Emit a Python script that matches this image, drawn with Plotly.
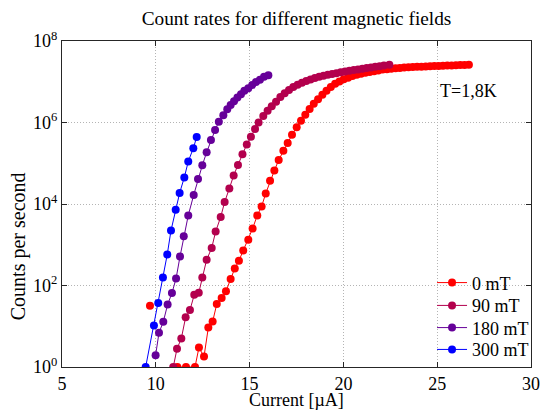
import plotly.graph_objects as go

# Bias current sweeps (µA) and measured count rates (counts/s), T = 1.8 K
current_0mT = [9.69, None, 11.15, 11.61, 12.09, 12.30, 12.57, 12.80, 13.03, 13.25, 13.51, 13.74,
               13.99, 14.21, 14.43, 14.66, 14.93, 15.16, 15.41, 15.64, 15.86, 16.09, 16.32,
               16.55, 16.80, 17.03, 17.26, 17.51, 17.74, 17.97, 18.20, 18.42, 18.65, 18.88,
               19.10, 19.33, 19.56, 19.79, 20.02, 20.25, 20.48, 20.71, 20.94, 21.17, 21.40,
               21.63, 21.86, 22.09, 22.32, 22.55, 22.78, 23.01, 23.24, 23.47, 23.70, 23.93,
               24.16, 24.39, 24.62, 24.85, 25.08, 25.31, 25.54, 25.77, 26.00, 26.23, 26.46, 26.69]
counts_0mT = [32, None, 1, 1, 1, 3, 1.8, 9.3, 13, 35, 49, 72,
              145, 263, 407, 724, 1.32e3, 2.5e3, 5.25e3, 8.7e3, 1.82e4, 3.7e4, 6.6e4,
              1.2e5, 2.04e5, 3.16e5, 5.0e5, 7.6e5, 1.1e6, 1.55e6, 2.14e6, 2.9e6, 3.7e6, 4.8e6,
              6.0e6, 7.4e6, 8.9e6, 1.02e7, 1.15e7, 1.26e7, 1.38e7, 1.48e7, 1.58e7, 1.66e7, 1.74e7,
              1.82e7, 1.9e7, 2.0e7, 2.04e7, 2.09e7, 2.14e7, 2.19e7, 2.24e7, 2.26e7, 2.29e7, 2.32e7,
              2.34e7, 2.37e7, 2.4e7, 2.43e7, 2.45e7, 2.48e7, 2.51e7, 2.51e7, 2.54e7, 2.57e7, 2.57e7, 2.6e7]

current_90mT = [10.93, 11.13, 11.36, 11.59, 11.82, 12.05, 12.29, 12.48, 12.71, 12.98, 13.19, 13.46,
                13.67, 13.92, 14.15, 14.38, 14.62, 14.85, 15.07, 15.29, 15.48, 15.73, 15.96,
                16.18, 16.41, 16.64, 16.87, 17.10, 17.33, 17.56, 17.79, 18.02, 18.25, 18.48,
                18.71, 18.94, 19.17, 19.40, 19.63, 19.86, 20.09, 20.32, 20.55, 20.78, 21.01,
                21.24, 21.47, 21.70, 21.93, 22.16, 22.45]
counts_90mT = [1, 2.8, 5, 16.6, 25, 59, 66, 158, 427, 832, 2.1e3, 4.8e3,
               1.12e4, 2.4e4, 5.0e4, 9.1e4, 1.66e5, 2.9e5, 4.5e5, 6.9e5, 1.0e6, 1.45e6, 1.95e6,
               2.5e6, 3.24e6, 4.2e6, 5.25e6, 6.3e6, 7.4e6, 8.5e6, 9.5e6, 1.05e7, 1.13e7, 1.23e7,
               1.32e7, 1.4e7, 1.48e7, 1.55e7, 1.62e7, 1.7e7, 1.78e7, 1.86e7, 1.93e7, 2.0e7, 2.09e7,
               2.16e7, 2.24e7, 2.32e7, 2.4e7, 2.51e7, 2.63e7]

current_180mT = [9.99, 10.17, 10.40, 10.63, 10.86, 11.08, 11.29, 11.49, 11.73, 12.02, 12.25, 12.48,
                 12.71, 12.94, 13.16, 13.36, 13.60, 13.81, 13.99, 14.17, 14.35, 14.54, 14.72,
                 14.93, 15.14, 15.34, 15.55, 15.77, 16.00]
counts_180mT = [1.95, 6.9, 12.9, 34, 65, 148, 513, 1.62e3, 5.25e3, 1.66e4, 4.1e4, 8.9e4,
                1.86e5, 3.7e5, 6.5e5, 1.05e6, 1.51e6, 2.1e6, 2.7e6, 3.3e6, 4.1e6, 4.9e6, 6.0e6,
                6.9e6, 8.3e6, 9.8e6, 1.12e7, 1.32e7, 1.45e7]

current_300mT = [9.46, 9.90, 10.13, 10.38, 10.61, 10.81, 11.06, 11.27, 11.52, 11.73, 12.00, 12.18]
counts_300mT = [1, 10.5, 37, 158, 575, 2.24e3, 7.2e3, 1.86e4, 4.5e4, 1.1e5, 2.34e5, 4.4e5]

series = [
    ("0 mT", current_0mT, counts_0mT, "rgb(255,0,0)"),
    ("90 mT", current_90mT, counts_90mT, "rgb(179,0,77)"),
    ("180 mT", current_180mT, counts_180mT, "rgb(102,0,153)"),
    ("300 mT", current_300mT, counts_300mT, "rgb(0,0,255)"),
]

y_tick_vals = [1, 1e2, 1e4, 1e6, 1e8]
y_tick_text = ["10<sup>0</sup>", "10<sup>2</sup>", "10<sup>4</sup>", "10<sup>6</sup>", "10<sup>8</sup>"]

FONT = "Liberation Serif, Times New Roman, serif"

# one legend per entry so each row sits at its own height
legend_rows_y = [0.258, 0.188, 0.120, 0.053]
legend_ids = ["legend", "legend2", "legend3", "legend4"]

fig = go.Figure()
for (name, xs, ys, color), lid in zip(series, legend_ids):
    fig.add_trace(go.Scatter(
        x=xs, y=ys, name=name, mode="lines+markers",
        line=dict(color=color, width=1),
        marker=dict(color=color, size=8, symbol="circle"),
        connectgaps=False, legend=lid,
    ))

axis_common = dict(
    showline=True, linecolor="#262626", linewidth=1, mirror="ticks",
    ticks="inside", ticklen=5, tickcolor="#262626",
    showgrid=True, gridcolor="#b4b4b4", griddash="1px,2px", gridwidth=1,
    zeroline=False, automargin=False,
    tickfont=dict(family=FONT, size=18, color="black"),
)

fig.update_xaxes(range=[5, 30], tick0=5, dtick=5, **axis_common)
fig.update_yaxes(type="log", range=[0, 8], tickvals=y_tick_vals, ticktext=y_tick_text,
                 **axis_common)

fig.add_annotation(x=25.05, y=6.77, xref="x", yref="y", text="T=1,8K", showarrow=False,
                   xanchor="left", yanchor="middle", font=dict(family=FONT, size=18, color="black"))
fig.add_annotation(x=0.5, y=-0.101, xref="paper", yref="paper", text="Current [µA]",
                   showarrow=False, xanchor="center", yanchor="middle",
                   font=dict(family=FONT, size=18, color="black"))
fig.add_annotation(x=-0.092, y=0.37, xref="paper", yref="paper", text="Counts per second",
                   textangle=-90, showarrow=False, xanchor="center", yanchor="middle",
                   font=dict(family=FONT, size=20, color="black"))

legend_style = dict(x=0.789, xanchor="left", yanchor="middle",
                    bgcolor="rgba(0,0,0,0)", borderwidth=0,
                    font=dict(family=FONT, size=18, color="black"))

fig.update_layout(
    width=540, height=412,
    margin=dict(l=62, r=9, t=41, b=45, autoexpand=False),
    paper_bgcolor="white", plot_bgcolor="white",
    title=dict(text="Count rates for different magnetic fields", x=0.5, xref="paper",
               y=1 - 18 / 412, yref="container", xanchor="center", yanchor="middle",
               font=dict(family=FONT, size=19.3, color="black")),
    showlegend=True,
    **{lid: dict(y=ly, **legend_style) for lid, ly in zip(legend_ids, legend_rows_y)},
)

fig.write_html("out.html")
